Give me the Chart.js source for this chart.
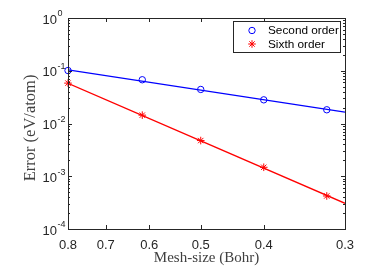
<!DOCTYPE html>
<html>
<head>
<meta charset="utf-8">
<script src="https://cdn.jsdelivr.net/npm/chart.js@4.4.0/dist/chart.umd.min.js"></script>
<style>
  html, body { margin: 0; padding: 0; background: #fff; }
  #wrap { width: 374px; height: 280px; }
</style>
</head>
<body>
<div id="wrap"><canvas id="errChart" width="374" height="280"></canvas></div>
<script>
/* === DATA === */
const meshSize    = [0.8, 0.615, 0.5, 0.4, 0.32];
const secondOrder = [0.101, 0.0675, 0.0442, 0.0281, 0.0182];
const sixthOrder  = [0.0583, 0.0144, 0.00475, 0.00148, 0.000423];
const fitX        = [0.8, 0.3];
const secondFit   = [0.104, 0.0164];
const sixthFit    = [0.058, 0.000307];
const xTicks      = [0.8, 0.7, 0.6, 0.5, 0.4, 0.3];
const yExponents  = [0, -1, -2, -3, -4];
const seriesNames = ["Second order", "Sixth order"];

const AX = "#262626";
const SANS = "'Liberation Sans', Arial, sans-serif";
const SERIF = "'Liberation Serif', 'DejaVu Serif', serif";

const pts = (xs, ys) => xs.map((x, i) => ({x: x, y: ys[i]}));

/* === AXES + LEGEND DRAWING === */
const framePlugin = {
  id: "frame",
  afterDraw(chart){
    const c = chart.ctx, a = chart.chartArea;
    const xs = chart.scales.x, ys = chart.scales.y;
    c.save();
    c.strokeStyle = AX; c.lineWidth = 1;
    c.strokeRect(Math.round(a.left)+0.5, Math.round(a.top)+0.5, Math.round(a.right-a.left), Math.round(a.bottom-a.top));

    c.beginPath();
    xTicks.forEach(v => {
      const px = Math.round(xs.getPixelForValue(v))+0.5;
      c.moveTo(px, a.bottom); c.lineTo(px, a.bottom-4);
      c.moveTo(px, a.top); c.lineTo(px, a.top+4);
    });
    yExponents.forEach(e => {
      const py = Math.round(ys.getPixelForValue(Math.pow(10, e)))+0.5;
      c.moveTo(a.left, py); c.lineTo(a.left+4, py);
      c.moveTo(a.right, py); c.lineTo(a.right-4, py);
      if(e > -4){
        for(let m = 2; m <= 9; m++){
          const pm = Math.round(ys.getPixelForValue(m*Math.pow(10, e-1)))+0.5;
          c.moveTo(a.left, pm); c.lineTo(a.left+2, pm);
          c.moveTo(a.right, pm); c.lineTo(a.right-2, pm);
        }
      }
    });
    c.stroke();

    // y tick labels 10^n
    c.fillStyle = AX;
    yExponents.forEach(e => {
      const py = ys.getPixelForValue(Math.pow(10, e));
      c.font = "13px " + SANS; c.textAlign = "right"; c.textBaseline = "middle";
      c.fillText("10", 57, py+2);
      c.font = "9px " + SANS; c.textAlign = "left";
      c.fillText(String(e), 57.5, py-4);
    });

    // axis titles
    c.fillStyle = "#404040";
    c.font = "15px " + SERIF; c.textAlign = "center"; c.textBaseline = "middle";
    c.fillText("Mesh-size (Bohr)", (a.left+a.right)/2, 258);
    c.font = "16.5px " + SERIF;
    c.translate(31, 128); c.rotate(-Math.PI/2);
    c.fillText("Error (eV/atom)", 0, 0);
    c.setTransform(1,0,0,1,0,0);

    // legend
    c.fillStyle = "#fff";
    c.fillRect(233.5, 21.5, 107, 31);
    c.strokeStyle = AX; c.strokeRect(233.5, 21.5, 107, 31);
    [0, 1].forEach(i => {
      const ds = chart.data.datasets[i];
      const y = 30.5 + i*13.5, r = ds.pointRadius;
      c.strokeStyle = ds.borderColor;
      c.lineWidth = 1;
      c.beginPath();
      if(ds.pointStyle === "circle"){ c.arc(252, y, r, 0, Math.PI*2); }
      else {
        c.moveTo(252-r, y); c.lineTo(252+r, y); c.moveTo(252, y-r); c.lineTo(252, y+r);
        const d = r*0.707; c.moveTo(252-d, y-d); c.lineTo(252+d, y+d); c.moveTo(252-d, y+d); c.lineTo(252+d, y-d);
      }
      c.stroke();
      c.fillStyle = "#000"; c.font = "11.8px " + SANS; c.textAlign = "left"; c.textBaseline = "middle";
      c.fillText(seriesNames[i], 268, y+0.5);
    });
    c.restore();
  }
};

/* === CHART === */
new Chart(document.getElementById("errChart"), {
  type: "scatter",
  data: {
    datasets: [
      {label: seriesNames[0], data: pts(meshSize, secondOrder), pointStyle: "circle", pointRadius: 3.2,
       borderColor: "#0000ff", backgroundColor: "rgba(0,0,0,0)", pointBorderWidth: 1, showLine: false, clip: false},
      {label: seriesNames[1], data: pts(meshSize, sixthOrder), pointStyle: "star", pointRadius: 3.8,
       borderColor: "#ff0000", backgroundColor: "#ff0000", pointBorderWidth: 1, showLine: false, clip: false},
      {label: "fit2", data: pts(fitX, secondFit), showLine: true, pointRadius: 0,
       borderColor: "#0000ff", borderWidth: 1.3},
      {label: "fit6", data: pts(fitX, sixthFit), showLine: true, pointRadius: 0,
       borderColor: "#ff0000", borderWidth: 1.3}
    ]
  },
  options: {
    responsive: false,
    animation: false,
    layout: {padding: {top: 18, right: 29, left: 0, bottom: 0}},
    plugins: {legend: {display: false}, tooltip: {enabled: false}},
    scales: {
      x: {
        type: "logarithmic", reverse: true, min: 0.3, max: 0.8,
        afterBuildTicks: s => { s.ticks = xTicks.map(v => ({value: v})); },
        afterFit: s => { s.height = 51; },
        grid: {display: false}, border: {display: false},
        ticks: {autoSkip: false, maxRotation: 0, padding: 1, color: AX,
                font: {family: SANS, size: 13}, callback: v => String(v)}
      },
      y: {
        type: "logarithmic", min: 1e-4, max: 1,
        afterFit: s => { s.width = 68; },
        grid: {display: false}, border: {display: false},
        ticks: {display: false}
      }
    }
  },
  plugins: [framePlugin]
});
</script>
</body>
</html>
